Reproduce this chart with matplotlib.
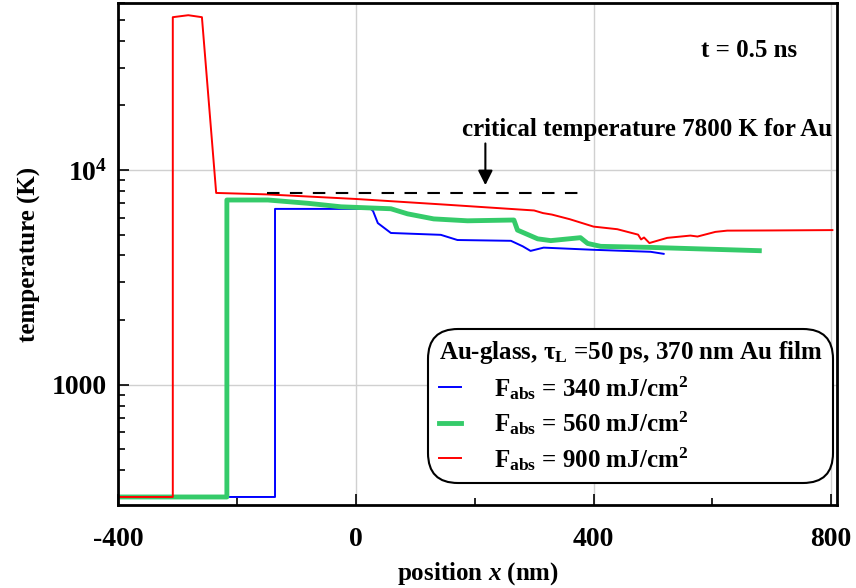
import numpy as np
import matplotlib
matplotlib.use('Agg')
import matplotlib.pyplot as plt
from matplotlib.ticker import FixedLocator, FixedFormatter, LogLocator, NullFormatter

plt.rcParams['font.family'] = ['Liberation Serif', 'DejaVu Serif']
plt.rcParams['font.weight'] = 'bold'
plt.rcParams['axes.labelweight'] = 'bold'
plt.rcParams['axes.unicode_minus'] = False
plt.rcParams['mathtext.fontset'] = 'custom'
plt.rcParams['mathtext.rm'] = 'Liberation Serif:bold'
plt.rcParams['mathtext.bf'] = 'Liberation Serif:bold'
plt.rcParams['mathtext.it'] = 'Liberation Serif:bold:italic'

# Temperature profiles at t = 0.5 ns
x_340 = [-400, -136, -136, 25, 29, 37, 59, 143, 171, 261, 281, 294, 316, 400, 496, 518]
T_340 = [300, 300, 6590, 6590, 6440, 5660, 5090, 4990, 4720, 4680, 4410, 4200, 4350, 4250, 4160, 4070]

x_560 = [-400, -217, -217, -148, -81, -25, 59, 87, 131, 188, 266, 272, 306, 328, 378, 390, 412, 496, 679]
T_560 = [300, 300, 7250, 7250, 7000, 6740, 6600, 6250, 5920, 5800, 5850, 5250, 4780, 4690, 4840, 4550, 4410, 4360, 4210]

x_900 = [-400, -308, -308, -282, -259, -235, -150, 0, 150, 300, 315, 330, 360, 400, 440,
         475, 480, 485, 494, 524, 563, 575, 605, 625, 700, 802]
T_900 = [300, 300, 51500, 52600, 51500, 7820, 7700, 7330, 6900, 6480, 6300, 6200, 5900, 5450, 5300,
         5000, 4750, 4850, 4570, 4830, 4950, 4900, 5150, 5220, 5230, 5250]

T_crit = 7800
x_crit = [-150, 375]

fig = plt.figure(figsize=(8.56, 5.88), dpi=100)
ax = fig.add_axes([0.138, 0.141, 0.840, 0.854])

ax.plot(x_340, T_340, color='#0000ff', lw=1.4, label=r'F$_{\mathrm{abs}}$ = 340 mJ/cm$^2$')
ax.plot(x_560, T_560, color='#35cb6a', lw=3.5, label=r'F$_{\mathrm{abs}}$ = 560 mJ/cm$^2$')
ax.plot(x_900, T_900, color='#ff0000', lw=1.4, label=r'F$_{\mathrm{abs}}$ = 900 mJ/cm$^2$')
ax.plot(x_crit, [T_crit, T_crit], color='black', lw=1.5, ls=(0, (6, 5)))

ax.set_yscale('log')
ax.set_xlim(-400, 810)
ax.set_ylim(275, 60000)

ax.xaxis.set_major_locator(FixedLocator([-400, 0, 400, 800]))
ax.xaxis.set_minor_locator(FixedLocator([-200, 200, 600]))
ax.yaxis.set_major_locator(FixedLocator([1000, 10000]))
ax.yaxis.set_major_formatter(FixedFormatter(['1000', r'$\mathbf{10^4}$']))
ax.yaxis.set_minor_locator(LogLocator(base=10, subs=np.arange(2, 10)))
ax.yaxis.set_minor_formatter(NullFormatter())

ax.grid(True, which='major', color='#d0d0d0', lw=1)
ax.tick_params(which='both', direction='in', labelsize=20, width=1.2)
ax.tick_params(which='major', length=8)
ax.tick_params(which='minor', length=5)
ax.tick_params(axis='x', pad=16)
ax.tick_params(axis='y', pad=8)
for s in ax.spines.values():
    s.set_linewidth(2)

ax.set_xlabel(r'position $x$ (nm)', fontsize=18, labelpad=6)
ax.set_ylabel('temperature (K)', fontsize=18, labelpad=8)

ax.text(0.945, 0.905, 't = 0.5 ns', transform=ax.transAxes, ha='right', va='center', fontsize=18)
ax.annotate('', xy=(218, 8250), xytext=(218, 13700),
            arrowprops=dict(arrowstyle='-|>', color='black', lw=1.5, mutation_scale=22))
ax.text(0.993, 0.748, 'critical temperature 7800 K for Au', transform=ax.transAxes,
        ha='right', va='center', fontsize=18)

leg = ax.legend(loc='lower right', bbox_to_anchor=(1.0, 0.035), fontsize=18,
                title=r'Au-glass, τ$_{\mathrm{L}}$ =50 ps, 370 nm Au film', title_fontsize=18,
                alignment='left', handlelength=0.9, handletextpad=1.3, labelspacing=0.3,
                fancybox=True, edgecolor='black', framealpha=1, borderpad=0.4,
                borderaxespad=0.2)
leg.get_frame().set_linewidth(1.5)
leg.get_frame().set_boxstyle('round,pad=0.02,rounding_size=1.2')

fig.savefig('out.png', dpi=100)
